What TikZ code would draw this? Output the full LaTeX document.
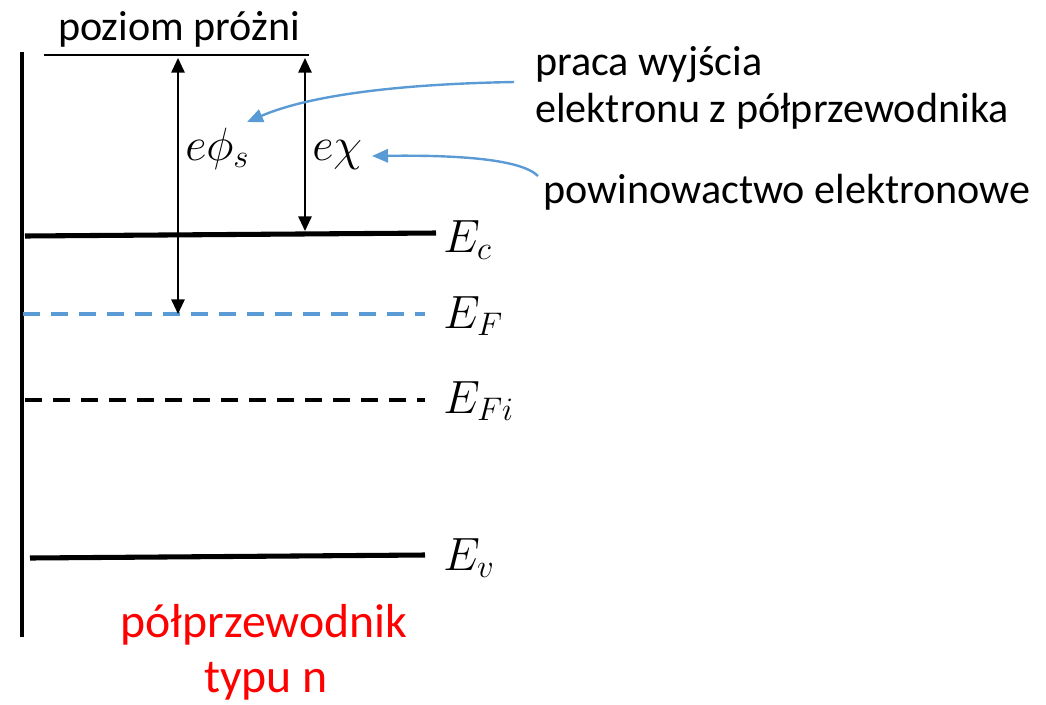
\documentclass[tikz,border=0pt]{standalone}
\usepackage{fix-cm}
\usepackage{fontspec}
\setmainfont{Carlito}
\usepackage{amsmath}
\usetikzlibrary{arrows.meta,positioning,calc}
\definecolor{lineblue}{RGB}{91,155,213}

\begin{document}
\begin{tikzpicture}[x=0.75pt,y=-0.75pt,
    level/.style={line width=3.8pt},
    dashlevel/.style={line width=2.3pt,dash pattern=on 13pt off 8pt},
    gap/.style={line width=1.4pt,{Triangle[length=11pt,width=10pt]}-{Triangle[length=11pt,width=10pt]}},
    pointer/.style={lineblue,line width=1.8pt,-{Triangle[length=12pt,width=10pt]}},
    txt/.style={font=\fontsize{31.6}{36}\selectfont,inner sep=0pt},
    redtxt/.style={font=\fontsize{35.8}{40}\selectfont,inner sep=0pt,red},
    lbl/.style={font=\fontsize{35}{40}\selectfont,inner sep=0pt}]
    \useasboundingbox (0,0) rectangle (1046,704);

    % Draw axis
    \coordinate (top) at (22,52);
    \coordinate (bot) at (22,637);
    \draw[line width=2.3pt] (top) -- (bot);

    % Vacuum level
    \node[txt,anchor=base] (vac) at (179,40) {poziom próżni};
    \coordinate (vacL) at (44,55);
    \coordinate (vacR) at (309,55);
    \draw[line width=0.8pt] (vacL) -- (vacR);

    % Band levels
    \coordinate (ecL) at (25,236);
    \coordinate (ecR) at (436,233);
    \draw[level] (ecL) -- (ecR);
    \coordinate (efL) at (23,314);
    \coordinate (efR) at (425,314);
    \draw[dashlevel,lineblue] (efL) -- (efR);
    \coordinate (efiL) at (25,400);
    \coordinate (efiR) at (425,400);
    \draw[dashlevel] (efiL) -- (efiR);
    \coordinate (evL) at (30,558);
    \coordinate (evR) at (425,555);
    \draw[level] (evL) -- (evR);

    % Label levels
    \node[lbl,anchor=base west] (ec) at (443,252) {$E_c$};
    \node[lbl,anchor=base west] (ef) at (443,328) {$E_F$};
    \node[lbl,anchor=base west] (efi) at (443,413) {$E_{Fi}$};
    \node[lbl,anchor=base west] (ev) at (443,570) {$E_v$};

    % Energy gaps
    \coordinate (phiT) at (178,58);
    \coordinate (phiB) at (178,314);
    \draw[gap] (phiT) -- (phiB);
    \coordinate (chiT) at (305,58);
    \coordinate (chiB) at (305,231);
    \draw[gap] (chiT) -- (chiB);
    \node[lbl,anchor=base west] (phi) at (185,160) {$e\phi_s$};
    \node[lbl,anchor=base west] (chi) at (312,160) {$e\chi$};

    % Descriptions
    \node[txt,anchor=base west] (work1) at (535,75) {praca wyjścia};
    \node[txt,anchor=base west] (work2) at (535,122) {elektronu z półprzewodnika};
    \node[txt,anchor=base west] (aff) at (543,203) {powinowactwo elektronowe};
    \coordinate (workS) at (514,82);
    \coordinate (workE) at (247,122);
    \draw[pointer] (workS) .. controls (400,84) and (310,95) .. (workE);
    \coordinate (affS) at (538,176);
    \coordinate (affE) at (372,156);
    \draw[pointer] (affS) .. controls (520,158) and (450,155) .. (affE);

    % Material
    \node[redtxt,anchor=base] (mat1) at (264,637) {półprzewodnik};
    \node[redtxt,anchor=base] (mat2) at (266,692) {typu n};
\end{tikzpicture}
\end{document}
